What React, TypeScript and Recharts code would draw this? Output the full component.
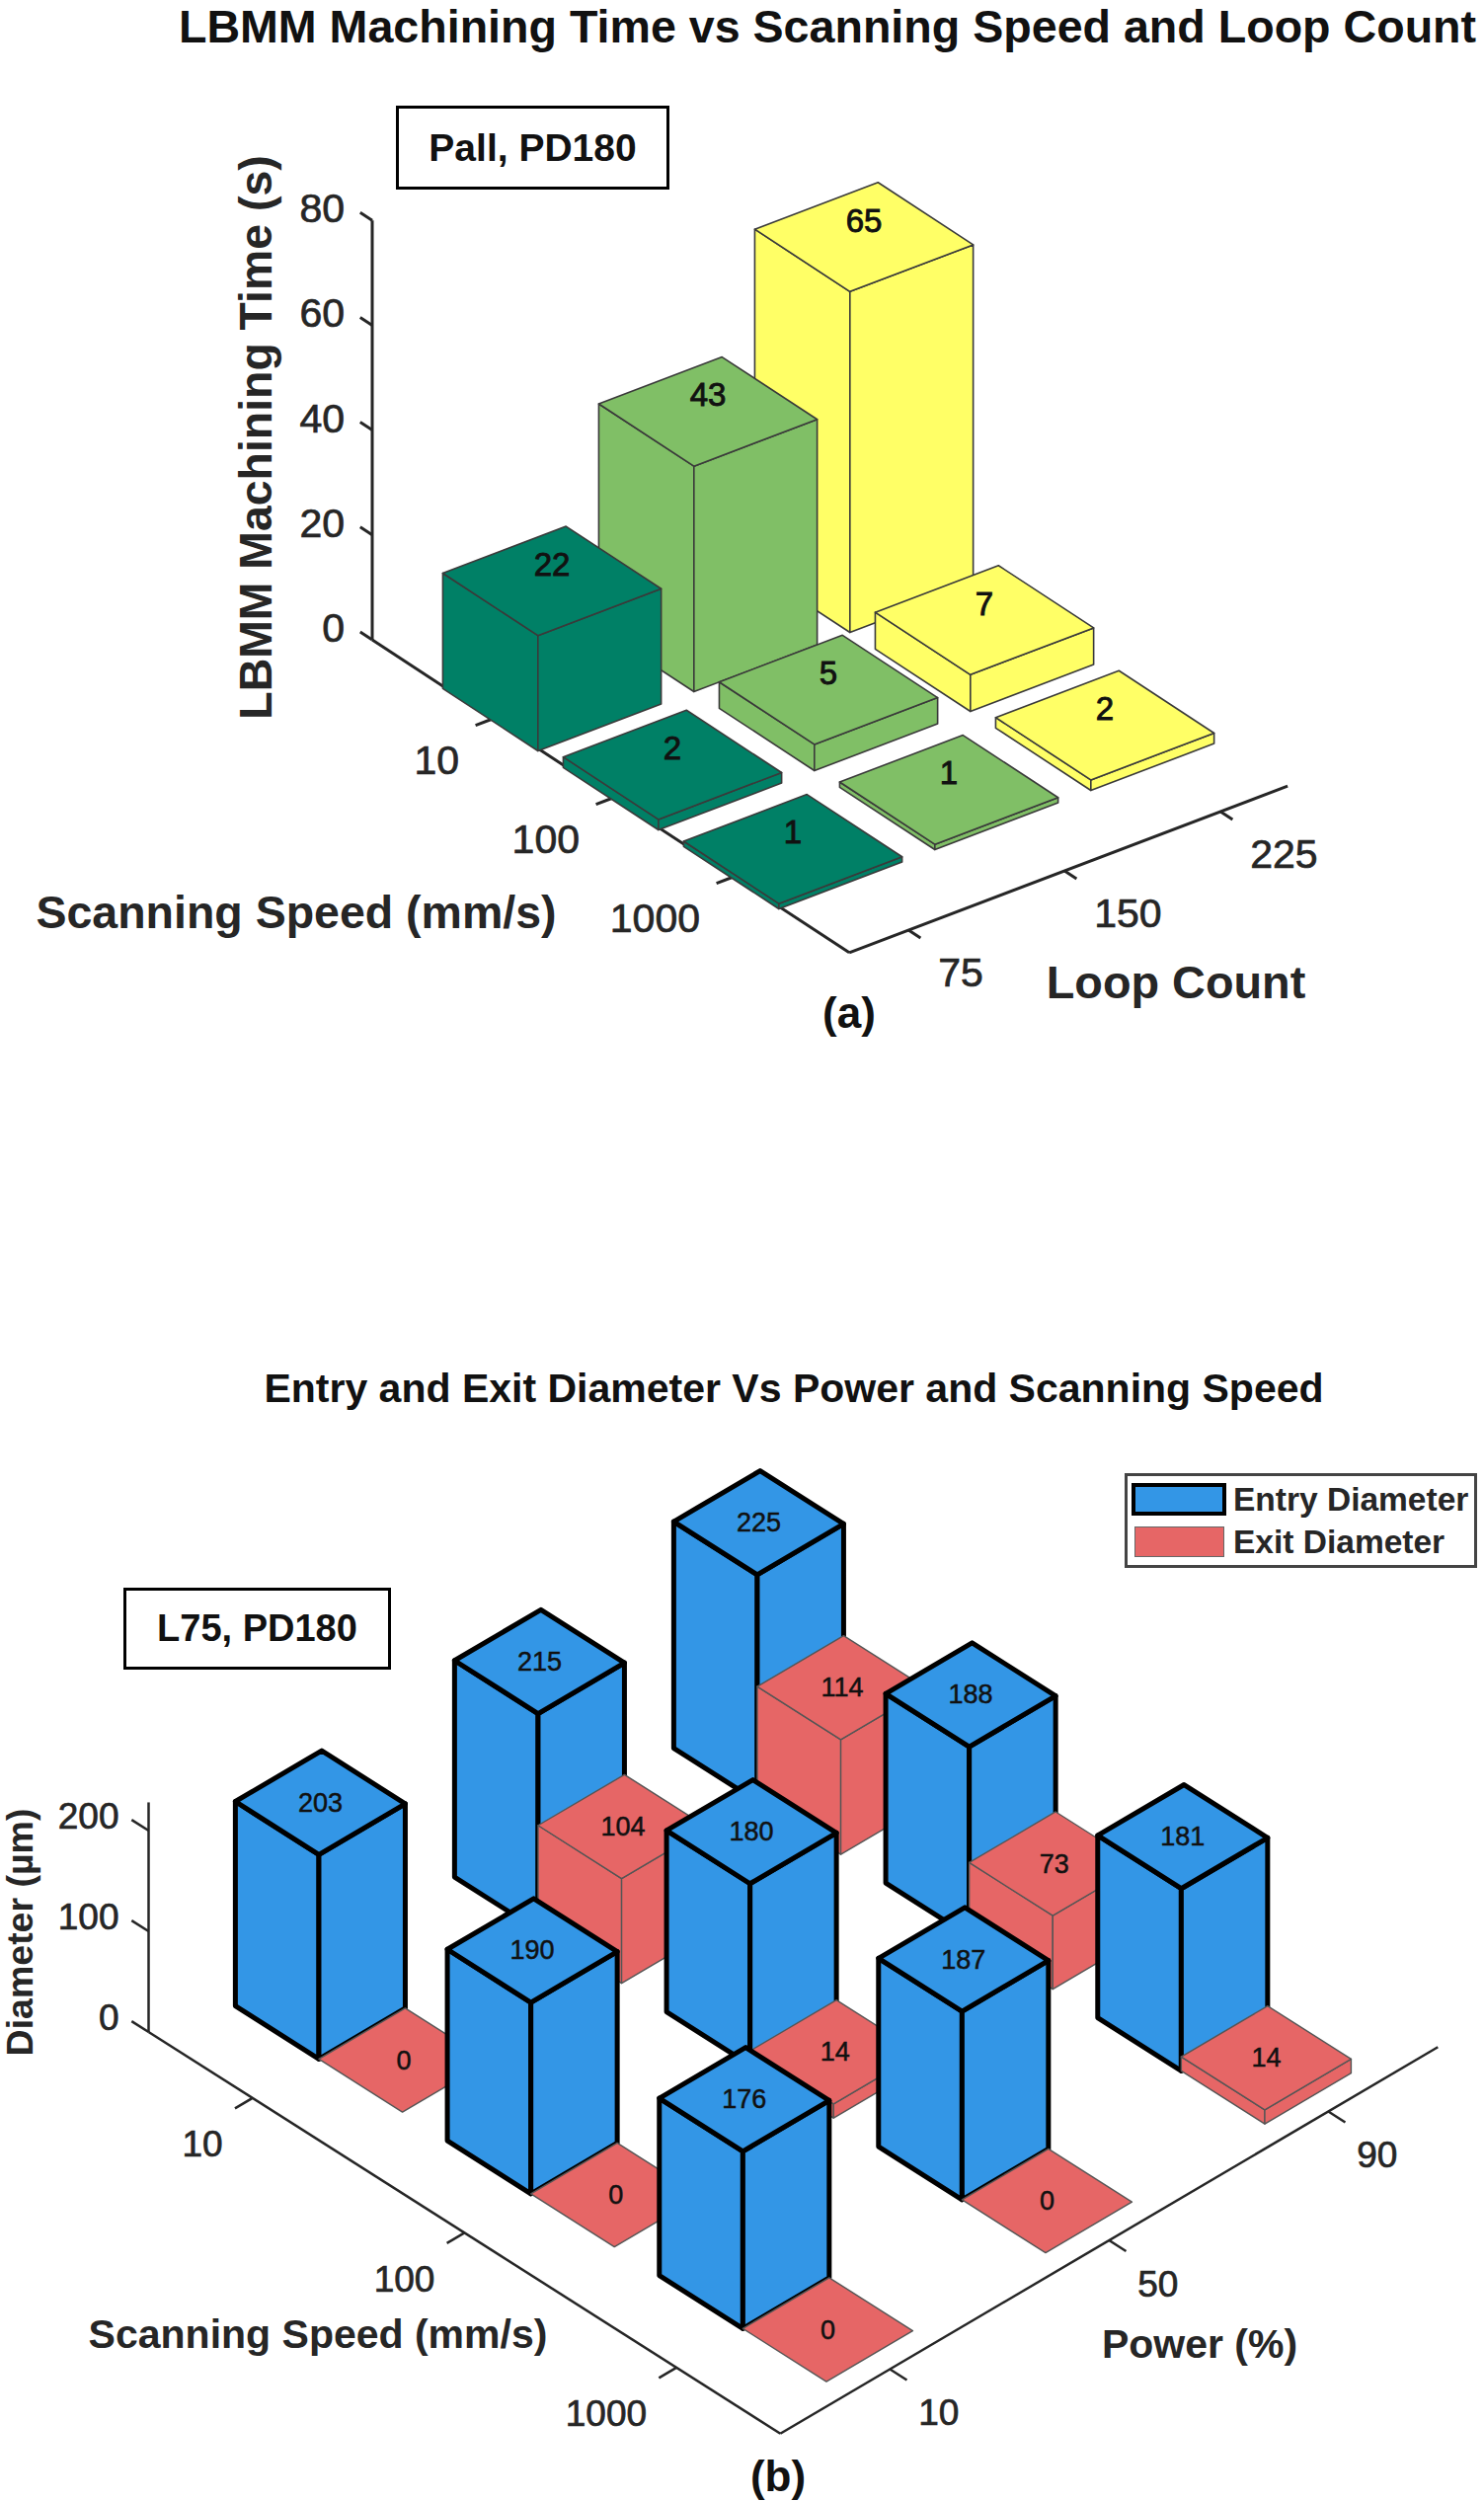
import { Fragment } from "react";
import { ReferenceLine, Scatter, ScatterChart, XAxis, YAxis } from "recharts";

const scanSpeeds = ["10", "100", "1000"];
const loopCounts = ["75", "150", "225"];
const powers = ["10", "50", "90"];

// rows = scanning speed, columns = loop count
const machiningTime = [
  [22, 43, 65],
  [2, 5, 7],
  [1, 1, 2],
];

// rows = scanning speed, columns = power
const entryDiameter = [
  [203, 215, 225],
  [190, 180, 188],
  [176, 187, 181],
];
const exitDiameter = [
  [0, 104, 114],
  [0, 14, 73],
  [0, 0, 14],
];

const timeTicks = [0, 20, 40, 60, 80];
const diameterTicks = [0, 100, 200];

const SUMMER = ["#008066", "#80BF66", "#FFFF66"];
const BLUE = "#3396E6";
const RED = "#E66666";
const FONT = "'Liberation Sans', Arial, sans-serif";
const INK = "#262626";

// oblique projection: x is in pixels, y in the unit of the vertical axis
const viewA = {
  width: 1503, height: 1100, originX: 377, originY: 648,
  scan: [122, 80], side: [158, -60], zScale: 5.31,
  scanEnd: 3.96, sideEnd: 2.81, zTop: 80,
};
const viewB = {
  width: 1503, height: 1163, originX: 150.5, originY: 688,
  scan: [214.7, 136.5], side: [222, -130.5], zScale: 1.02,
  scanEnd: 2.98, sideEnd: 3, zTop: 228,
};

type View = typeof viewA;

const project = (v: View, a: number, b: number, z = 0) => ({
  x: a * v.scan[0] + b * v.side[0],
  y: z - (a * v.scan[1] + b * v.side[1]) / v.zScale,
});

function Bar3D({ cx, cy, value, view, halfWidth, fill, stroke, strokeWidth, fontSize, labelDy, labelWeight }: any) {
  const corner = (da: number, db: number, drop = 0) =>
    `${cx + da * view.scan[0] + db * view.side[0]},${cy + da * view.scan[1] + db * view.side[1] + drop}`;
  const w = halfWidth;
  const h = value * view.zScale;
  const faceProps = { fill, stroke, strokeWidth, strokeLinejoin: "round" as const };
  return (
    <g>
      {h > 0 && (
        <>
          <polygon {...faceProps} points={[corner(-w, -w), corner(w, -w), corner(w, -w, h), corner(-w, -w, h)].join(" ")} />
          <polygon {...faceProps} points={[corner(w, -w), corner(w, w), corner(w, w, h), corner(w, -w, h)].join(" ")} />
        </>
      )}
      <polygon {...faceProps} points={[corner(-w, -w), corner(w, -w), corner(w, w), corner(-w, w)].join(" ")} />
      <text
        x={cx} y={cy + labelDy} textAnchor="middle" dominantBaseline="central" fontFamily={FONT} fontSize={fontSize}
        fill="#111" stroke="#111" strokeWidth={labelWeight}
      >
        {value}
      </text>
    </g>
  );
}

function TickText({ cx, cy, payload, dx, dy, anchor, fontSize }: any) {
  return (
    <text
      x={cx + dx} y={cy + dy} textAnchor={anchor} dominantBaseline="central" fontFamily={FONT} fontSize={fontSize}
      fill={INK} stroke={INK} strokeWidth={0.7}
    >
      {payload.label}
    </text>
  );
}

function Axes3D({ view, zTicks, tickLen, stroke }: { view: View; zTicks: number[]; tickLen: number; stroke: number }) {
  const seg = (p: { x: number; y: number }, q: { x: number; y: number }, key: string) => (
    <ReferenceLine key={key} segment={[p, q]} stroke={INK} strokeWidth={stroke} ifOverflow="visible" />
  );
  return [
    seg(project(view, 0, 0, 0), project(view, 0, 0, view.zTop), "z"),
    seg(project(view, 0, 0, 0), project(view, view.scanEnd, 0), "scan"),
    seg(project(view, view.scanEnd, 0), project(view, view.scanEnd, view.sideEnd), "side"),
    ...zTicks.map((t) => seg(project(view, 0, 0, t), project(view, -tickLen, 0, t), `zt${t}`)),
  ];
}

function Caption({ x, y, size, bold = true, color = INK, rotate, children }: any) {
  return (
    <div
      style={{
        position: "absolute", left: x, top: y, whiteSpace: "nowrap", fontFamily: FONT, fontSize: size,
        fontWeight: bold ? 700 : 400, color, lineHeight: 1,
        transform: `translate(-50%,-50%)${rotate ? ` rotate(${rotate}deg)` : ""}`,
      }}
    >
      {children}
    </div>
  );
}

function NoteBox({ left, top, width, height, size, children }: any) {
  return (
    <div
      style={{
        position: "absolute", left, top, width, height, boxSizing: "border-box", border: "3px solid #000",
        background: "#fff", display: "flex", alignItems: "center", justifyContent: "center",
        fontFamily: FONT, fontWeight: 700, fontSize: size, color: "#111",
      }}
    >
      {children}
    </div>
  );
}

function Plane({ view, children }: { view: View; children: any }) {
  return (
    <ScatterChart width={view.width} height={view.height} margin={{ top: 0, right: 0, bottom: 0, left: 0 }}>
      <XAxis type="number" dataKey="x" hide allowDataOverflow domain={[-view.originX, view.width - view.originX]} />
      <YAxis
        type="number"
        dataKey="y"
        hide
        allowDataOverflow
        domain={[-(view.height - view.originY) / view.zScale, view.originY / view.zScale]}
      />
      {children}
    </ScatterChart>
  );
}

function tickSeries(view: View, points: { x: number; y: number; label: string }[], dx: number, dy: number, anchor: string, fontSize: number) {
  return (
    <Scatter
      data={points}
      isAnimationActive={false}
      shape={(p: any) => <TickText {...p} dx={dx} dy={dy} anchor={anchor} fontSize={fontSize} />}
    />
  );
}

function ChartA() {
  const v = viewA;
  const A0 = 1;
  const B0 = 0.38;
  return (
    <Plane view={v}>
      {Axes3D({ view: v, zTicks: timeTicks, tickLen: 0.1, stroke: 3 })}
      {scanSpeeds.map((_, i) => (
        <ReferenceLine key={`st${i}`} segment={[project(v, i + A0, 0), project(v, i + A0, -0.11)]} stroke={INK} strokeWidth={3} ifOverflow="visible" />
      ))}
      {loopCounts.map((_, j) => (
        <ReferenceLine key={`lt${j}`} segment={[project(v, v.scanEnd, j + B0), project(v, v.scanEnd + 0.1, j + B0)]} stroke={INK} strokeWidth={3} ifOverflow="visible" />
      ))}
      {scanSpeeds.map((_, i) => (
        <Scatter
          key={i}
          isAnimationActive={false}
          data={loopCounts
            .map((_, j) => ({ ...project(v, i + A0, j + B0, machiningTime[i][j]), value: machiningTime[i][j], j }))
            .reverse()}
          shape={(p: any) => (
            <Bar3D
              cx={p.cx} cy={p.cy} value={p.payload.value} view={v} halfWidth={0.395}
              fill={SUMMER[p.payload.j]} stroke="#3a3a3a" strokeWidth={1.6} fontSize={33} labelDy={-17} labelWeight={0.9}
            />
          )}
        />
      ))}
      {tickSeries(v, timeTicks.map((t) => ({ ...project(v, 0, 0, t), label: String(t) })), -28, -12, "end", 41)}
      {tickSeries(v, scanSpeeds.map((s, i) => ({ ...project(v, i + A0, 0), label: s })), -34, 42, "end", 41)}
      {tickSeries(v, loopCounts.map((s, j) => ({ ...project(v, v.scanEnd, j + B0), label: s })), 30, 43, "start", 41)}
    </Plane>
  );
}

function ChartB() {
  const v = viewB as View;
  const rows = scanSpeeds.flatMap((_, i) => [
    { i, a: i + 0.293, values: entryDiameter[i], fill: BLUE, stroke: "#000", sw: 5 },
    { i, a: i + 0.687, values: exitDiameter[i], fill: RED, stroke: "#555", sw: 1.4 },
  ]);
  return (
    <Plane view={v}>
      {Axes3D({ view: v, zTicks: diameterTicks, tickLen: 0.08, stroke: 2.5 })}
      {scanSpeeds.map((_, i) => (
        <ReferenceLine key={`st${i}`} segment={[project(v, i + 0.49, 0), project(v, i + 0.49, -0.08)]} stroke={INK} strokeWidth={2.5} ifOverflow="visible" />
      ))}
      {powers.map((_, j) => (
        <ReferenceLine key={`pt${j}`} segment={[project(v, v.scanEnd, j + 0.5), project(v, v.scanEnd + 0.08, j + 0.5)]} stroke={INK} strokeWidth={2.5} ifOverflow="visible" />
      ))}
      {rows.map((r, k) => (
        <Scatter
          key={k}
          isAnimationActive={false}
          data={powers.map((_, j) => ({ ...project(v, r.a, j + 0.5, r.values[j]), value: r.values[j] })).reverse()}
          shape={(p: any) => (
            <Bar3D
              cx={p.cx} cy={p.cy} value={p.payload.value} view={v} halfWidth={0.197}
              fill={r.fill} stroke={r.stroke} strokeWidth={r.sw} fontSize={27} labelDy={0} labelWeight={0.5}
            />
          )}
        />
      ))}
      {tickSeries(v, diameterTicks.map((t) => ({ ...project(v, 0, 0, t), label: String(t) })), -30, -15, "end", 37)}
      {tickSeries(v, scanSpeeds.map((s, i) => ({ ...project(v, i + 0.49, 0), label: s })), -30, 47, "end", 37)}
      {tickSeries(v, powers.map((s, j) => ({ ...project(v, v.scanEnd, j + 0.5), label: s })), 29, 44, "start", 37)}
    </Plane>
  );
}

function LegendBox() {
  const entries = [
    { name: "Entry Diameter", fill: BLUE, border: "4px solid #000", top: 10, left: 7, w: 96, h: 33 },
    { name: "Exit Diameter", fill: RED, border: "1.5px solid #666", top: 54, left: 10, w: 91, h: 31 },
  ];
  return (
    <div style={{ position: "absolute", left: 1139, top: 1492, width: 357, height: 96, boxSizing: "border-box", border: "3.5px solid #444", background: "#fff" }}>
      {entries.map((e) => (
        <Fragment key={e.name}>
          <div style={{ position: "absolute", left: e.left - 3, top: e.top - 3, width: e.w, height: e.h, boxSizing: "border-box", background: e.fill, border: e.border }} />
          <div style={{ position: "absolute", left: 107, top: e.top - 3 + e.h / 2, transform: "translateY(-50%)", fontFamily: FONT, fontWeight: 700, fontSize: 33.5, lineHeight: 1, color: INK, whiteSpace: "nowrap" }}>
            {e.name}
          </div>
        </Fragment>
      ))}
    </div>
  );
}

export default function App() {
  return (
    <div style={{ position: "absolute", left: 0, top: 0, width: 1503, height: 2533, background: "#fff", overflow: "hidden" }}>
      <div style={{ position: "absolute", left: 0, top: 0 }}>
        <ChartA />
      </div>
      <div style={{ position: "absolute", left: 0, top: 1370 }}>
        <ChartB />
      </div>

      <Caption x={838} y={27} size={46.6} color="#111">LBMM Machining Time vs Scanning Speed and Loop Count</Caption>
      <NoteBox left={401} top={107} width={277} height={85} size={39}>Pall, PD180</NoteBox>
      <Caption x={259} y={443} size={46.4} rotate={-90}>LBMM Machining Time (s)</Caption>
      <Caption x={300} y={924} size={46.5}>Scanning Speed (mm/s)</Caption>
      <Caption x={1191} y={995} size={46.8}>Loop Count</Caption>
      <Caption x={860} y={1026} size={44} color="#111">(a)</Caption>

      <Caption x={804} y={1406} size={41} color="#111">Entry and Exit Diameter Vs Power and Scanning Speed</Caption>
      <NoteBox left={125} top={1608} width={271} height={83} size={38}>L75, PD180</NoteBox>
      <LegendBox />
      <Caption x={21} y={1957} size={37.5} rotate={-90}>Diameter (µm)</Caption>
      <Caption x={322} y={2364} size={41}>Scanning Speed (mm/s)</Caption>
      <Caption x={1215} y={2374} size={41}>Power (%)</Caption>
      <Caption x={788} y={2508} size={44} color="#111">(b)</Caption>
    </div>
  );
}
